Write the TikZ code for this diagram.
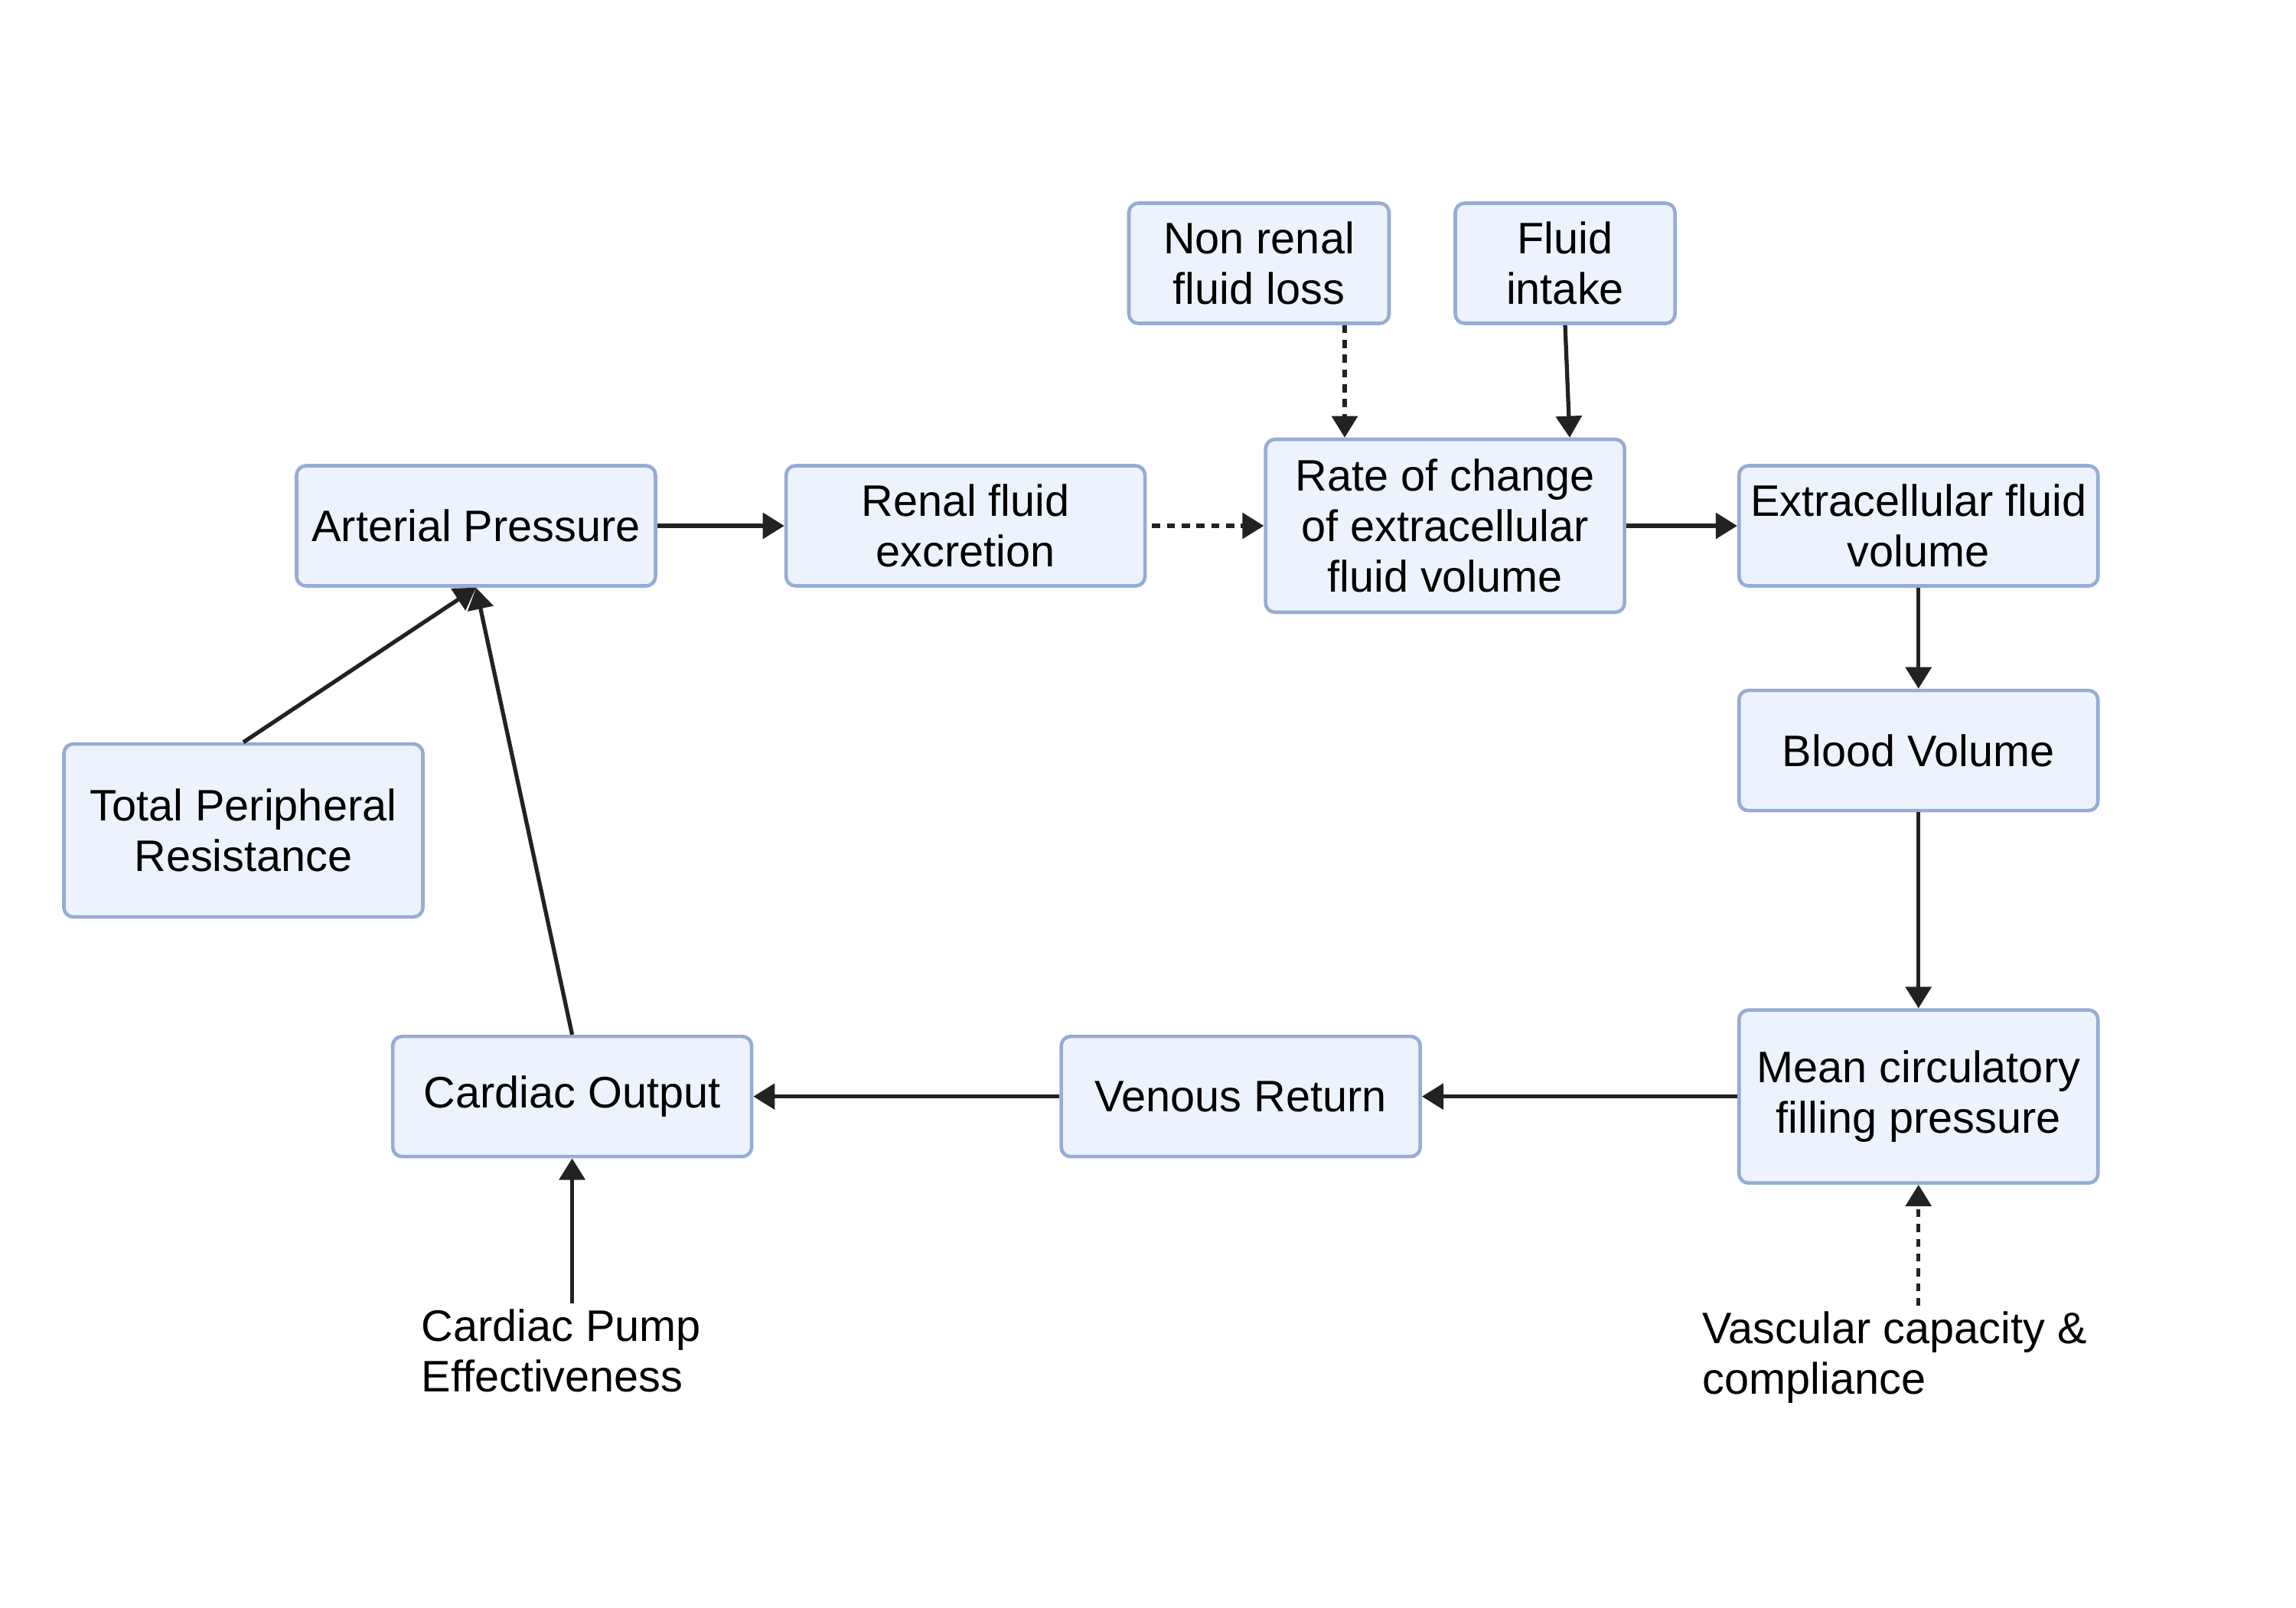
\documentclass[tikz,border=0pt]{standalone}
\usepackage{fontspec}
\setmainfont{Liberation Sans}
\usetikzlibrary{positioning, arrows.meta, calc}
\definecolor{boxline}{HTML}{96ACD4}
\definecolor{boxfill}{HTML}{EDF3FC}
\definecolor{inkline}{HTML}{222222}
\tikzset{
    node distance=1.5cm and 1.5cm,
    block/.style={draw=boxline, fill=boxfill, line width=1.3pt, rounded corners=3.5pt,
        minimum width=4.69cm, minimum height=1.57cm, align=center, inner sep=2pt,
        font=\fontsize{16.4}{18.8}\selectfont},
    tall block/.style={block, minimum height=2.26cm},
    free text/.style={align=left, inner sep=2pt, font=\fontsize{16.4}{18.8}\selectfont}
}

\begin{document}
\begin{tikzpicture}[
    flow/.style={-{Triangle[length=8pt,width=9.5pt]}, line width=1.5pt, draw=inkline},
    dotted flow/.style={flow, dash pattern=on 3pt off 2.5pt}
]
    \useasboundingbox (0,0) rectangle (30,-21);

    % Main loop
    \node[block] (ap) at (6.22,-6.87) {Arterial Pressure};
    \node[block, right=1.66cm of ap] (renal) {Renal fluid\\excretion};
    \node[tall block, right=1.53cm of renal] (rate) {Rate of change\\of extracellular\\fluid volume};
    \node[block, right=1.45cm of rate] (ecf) {Extracellular fluid\\volume};
    \node[block, below=1.32cm of ecf] (blood) {Blood Volume};
    \node[tall block, below=2.56cm of blood] (mcfp) {Mean circulatory\\filling pressure};
    \node[block, left=4.12cm of mcfp] (venous) {Venous Return};
    \node[block, left=4.0cm of venous] (co) {Cardiac Output};

    % Side inputs
    \node[block, minimum width=3.4cm] (nonrenal) at (16.45,-3.44) {Non renal\\fluid loss};
    \node[block, minimum width=2.87cm] (intake) at (20.45,-3.44) {Fluid\\intake};
    \node[tall block] (tpr) at (3.18,-10.85) {Total Peripheral\\Resistance};
    \node[free text, anchor=west] (pump) at (5.43,-17.65) {Cardiac Pump\\Effectiveness};
    \node[free text, anchor=west] (vasc) at (22.17,-17.74) {Vascular capacity \&\\compliance};

    % Connectors
    \draw[flow] (ap) -- (renal);
    \draw[dotted flow] ([xshift=2pt]renal.east) -- (rate.west);
    \draw[dotted flow] ([xshift=1.12cm]nonrenal.south) -- ([xshift=1.12cm]nonrenal.south |- rate.north);
    \draw[flow] (intake.south) -- ([xshift=0.06cm]intake.south |- rate.north);
    \draw[flow] (rate) -- (ecf);
    \draw[flow] (ecf) -- (blood);
    \draw[flow] (blood) -- (mcfp);
    \draw[flow] (mcfp) -- (venous);
    \draw[flow] (venous) -- (co);
    \draw[flow] (co.north) -- (ap.south);
    \draw[flow] (tpr.north) -- (ap.south);
    \draw[flow] (pump.north -| co.south) -- (co.south);
    \draw[dotted flow] (vasc.north -| mcfp.south) -- (mcfp.south);
\end{tikzpicture}
\end{document}
